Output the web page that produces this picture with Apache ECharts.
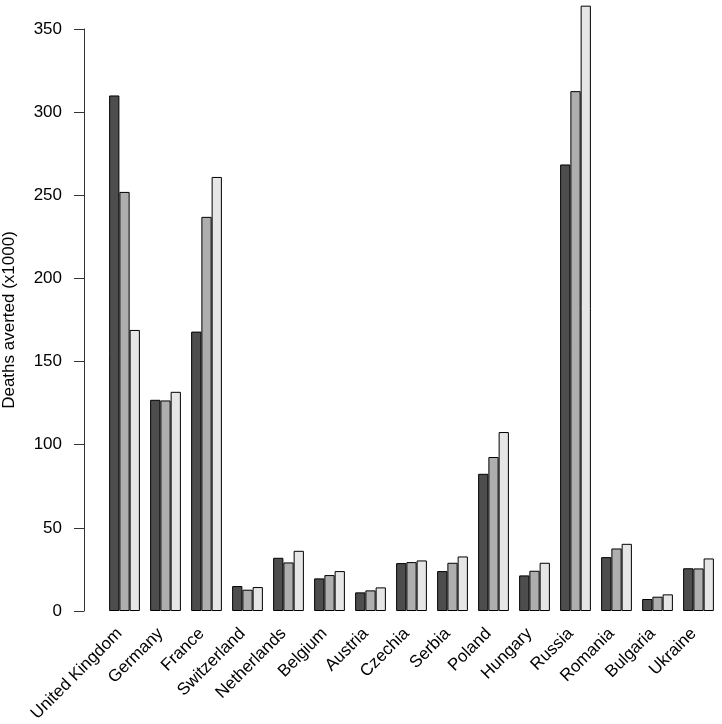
<!DOCTYPE html>
<html>
<head>
<meta charset="utf-8">
<script src="https://cdn.jsdelivr.net/npm/echarts@6/dist/echarts.min.js"></script>
<style>
  html, body { margin: 0; padding: 0; background: #fff; }
  #chart { width: 722px; height: 724px; }
</style>
</head>
<body>
<div id="chart"></div>
<script>
const countries = ['United Kingdom', 'Germany', 'France', 'Switzerland', 'Netherlands', 'Belgium',
  'Austria', 'Czechia', 'Serbia', 'Poland', 'Hungary', 'Russia', 'Romania', 'Bulgaria', 'Ukraine']

// three bars per country, dark -> light
const seriesA = [310, 127, 168, 15, 32, 19.6, 11.2, 28.8, 24, 82.5, 21.4, 268.5, 32.4, 7.2, 25.7]
const seriesB = [252, 126.6, 237, 12.8, 29.2, 21.6, 12.4, 29.4, 29, 92.6, 24.2, 312.6, 37.6, 8.6, 25.6]
const seriesC = [169, 131.8, 261, 14.4, 36.2, 24, 14.2, 30.4, 32.8, 107.6, 29, 364, 40.4, 10, 31.6]

const yTicks = [0, 50, 100, 150, 200, 250, 300, 350]

const fills = ['#4D4D4D', '#AEAEAE', '#E6E6E6']
const font = 'Liberation Sans, Arial, Helvetica, sans-serif'

const chart = echarts.init(document.getElementById('chart'))

const makeBar = (data, i) => ({
  type: 'bar',
  xAxisIndex: 0,
  yAxisIndex: 0,
  data: data,
  barGap: '0%',
  barCategoryGap: '25%',
  itemStyle: {
    color: fills[i],
    borderColor: '#000',
    borderWidth: 1
  },
  emphasis: { disabled: true }
})

const option = {
  animation: false,
  grid: [
    // bars
    { left: 104, right: 3, top: 4, bottom: 113, outerBoundsMode: 'none' },
    // visible y axis, 0..350 only
    { left: 84, right: 3, top: 29, bottom: 113, outerBoundsMode: 'none' }
  ],
  xAxis: [
    {
      type: 'category',
      gridIndex: 0,
      data: countries,
      axisLine: { show: false },
      axisTick: { show: false },
      axisLabel: {
        rotate: 45,
        interval: 0,
        margin: 15,
        padding: [0, 7, 0, 0],
        color: '#000',
        fontSize: 17,
        fontFamily: font
      }
    },
    { type: 'value', gridIndex: 1, show: false }
  ],
  yAxis: [
    {
      type: 'value',
      gridIndex: 0,
      min: 0,
      max: 365,
      show: false
    },
    {
      type: 'value',
      gridIndex: 1,
      min: yTicks[0],
      max: yTicks[yTicks.length - 1],
      interval: 50,
      name: 'Deaths averted (x1000)',
      nameLocation: 'middle',
      nameGap: 66,
      nameTextStyle: { color: '#000', fontSize: 17, fontFamily: font },
      axisLine: { show: true, lineStyle: { color: '#333', width: 1 } },
      axisTick: { show: true, length: 10, lineStyle: { color: '#333' } },
      axisLabel: { margin: 22, color: '#000', fontSize: 17, fontFamily: font },
      splitLine: { show: false }
    }
  ],
  series: [
    makeBar(seriesA, 0),
    makeBar(seriesB, 1),
    makeBar(seriesC, 2)
  ]
}

chart.setOption(option)
</script>
</body>
</html>
